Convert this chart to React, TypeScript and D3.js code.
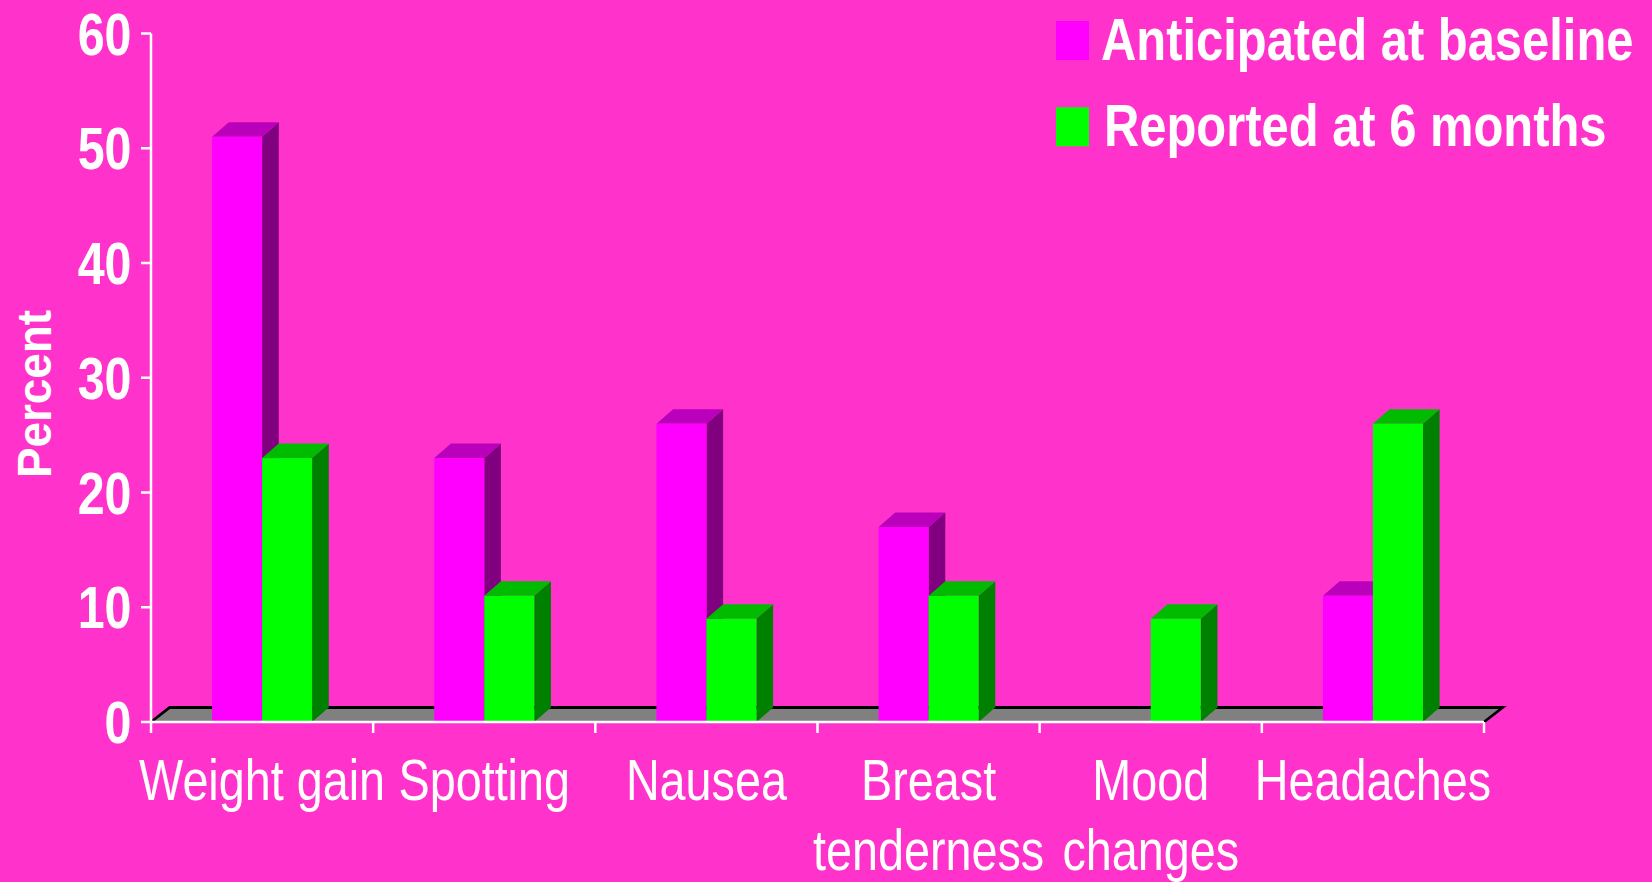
import React, { useEffect } from "react";
import * as d3 from "d3";

const categories = ["Weight gain", "Spotting", "Nausea", "Breast tenderness", "Mood changes", "Headaches"];
const categoryLines = [["Weight gain"], ["Spotting"], ["Nausea"], ["Breast", "tenderness"], ["Mood", "changes"], ["Headaches"]];
const seriesNames = ["Anticipated at baseline", "Reported at 6 months"];
const anticipated = [51, 23, 26, 17, 0, 11];
const reported = [23, 11, 9, 11, 9, 26];
const yTicks = [0, 10, 20, 30, 40, 50, 60];

const W = 1652;
const H = 882;
const BG = "#FF33CC";
const FONT = "'Liberation Sans', Arial, sans-serif";
const colors = [
  { front: "#FF00FF", top: "#BB00BB", side: "#800080" },
  { front: "#00FF00", top: "#00BB00", side: "#008000" },
];
const DX = 16.7;
const DY = -14.5;

export default function App() {
  useEffect(() => {
    document.body.style.margin = "0";
    document.body.style.background = BG;
  }, []);

  const x0 = 151;
  const x1 = 1484;
  const y = d3.scaleLinear().domain([0, 60]).range([722, 33.5]);
  const x = d3.scaleBand<string>().domain(categories).range([x0, x1]).paddingInner(0).paddingOuter(0);
  const barW = 50;
  const xs = d3.scaleBand<string>().domain(seriesNames).range([-barW, barW]).padding(0);
  const values = [anticipated, reported];
  const yb = y(0);

  const bars: React.ReactNode[] = [];
  categories.forEach((c, ci) => {
    const cx = (x(c) as number) + x.bandwidth() / 2;
    seriesNames.forEach((s, si) => {
      const v = values[si][ci];
      if (v <= 0) return;
      const l = cx + (xs(s) as number);
      const r = l + xs.bandwidth();
      const t = y(v);
      const col = colors[si];
      bars.push(
        <g key={`${ci}-${si}`}>
          <polygon
            points={`${r},${t} ${r + DX},${t + DY} ${r + DX},${yb + DY} ${r},${yb}`}
            fill={col.side}
          />
          <polygon
            points={`${l},${t} ${l + DX},${t + DY} ${r + DX},${t + DY} ${r},${t}`}
            fill={col.top}
          />
          <rect x={l} y={t} width={r - l} height={yb - t} fill={col.front} />
        </g>
      );
    });
  });

  return (
    <svg width={W} height={H} style={{ display: "block", background: BG }} fontFamily={FONT}>
      <rect x={0} y={0} width={W} height={H} fill={BG} />
      {/* floor */}
      <polygon
        points={`${x0},${yb} ${x1},${yb} ${x1 + DX + 2},${yb + DY} ${x0 + DX + 2},${yb + DY}`}
        fill="#808080"
      />
      <polyline
        points={`${x0},${yb} ${x0 + DX + 2},${yb + DY} ${x1 + DX + 2},${yb + DY} ${x1},${yb}`}
        fill="none"
        stroke="#000"
        strokeWidth={2.8}
      />
      {bars}
      {/* axes */}
      <line x1={x0} y1={y(60)} x2={x0} y2={yb} stroke="#fff" strokeWidth={2.5} />
      <line x1={x0} y1={yb} x2={x1} y2={yb} stroke="#fff" strokeWidth={2.5} />
      {yTicks.map((t) => (
        <g key={t}>
          <line x1={x0 - 10} x2={x0} y1={y(t)} y2={y(t)} stroke="#fff" strokeWidth={2.5} />
          <text
            transform={`translate(131.5,${y(t) + 21}) scale(0.82,1)`}
            textAnchor="end"
            fontSize={59}
            fontWeight="bold"
            fill="#fff"
          >
            {t}
          </text>
        </g>
      ))}
      {d3.range(categories.length + 1).map((i) => {
        const xx = x0 + i * x.bandwidth();
        return <line key={i} x1={xx} x2={xx} y1={yb} y2={yb + 11} stroke="#fff" strokeWidth={2.5} />;
      })}
      {categories.map((c, ci) => {
        const cx = (x(c) as number) + x.bandwidth() / 2;
        return categoryLines[ci].map((ln, li) => (
          <text
            key={`${ci}-${li}`}
            transform={`translate(${cx},${800 + li * 70}) scale(0.82,1)`}
            textAnchor="middle"
            fontSize={57}
            fill="#fff"
          >
            {ln}
          </text>
        ));
      })}
      {/* y title */}
      <text
        transform={`translate(50.5,394) rotate(-90) scale(0.955,1)`}
        textAnchor="middle"
        fontSize={48}
        fontWeight="bold"
        fill="#fff"
      >
        Percent
      </text>
      {/* legend */}
      {seriesNames.map((s, si) => (
        <g key={s}>
          <rect x={1056} y={si === 0 ? 21 : 107.3} width={33} height={39} fill={colors[si].front} />
          <text
            transform={`translate(${si === 0 ? 1101 : 1104},${si === 0 ? 60 : 145.7}) scale(0.815,1)`}
            fontSize={60}
            fontWeight="bold"
            fill="#fff"
          >
            {s}
          </text>
        </g>
      ))}
    </svg>
  );
}
